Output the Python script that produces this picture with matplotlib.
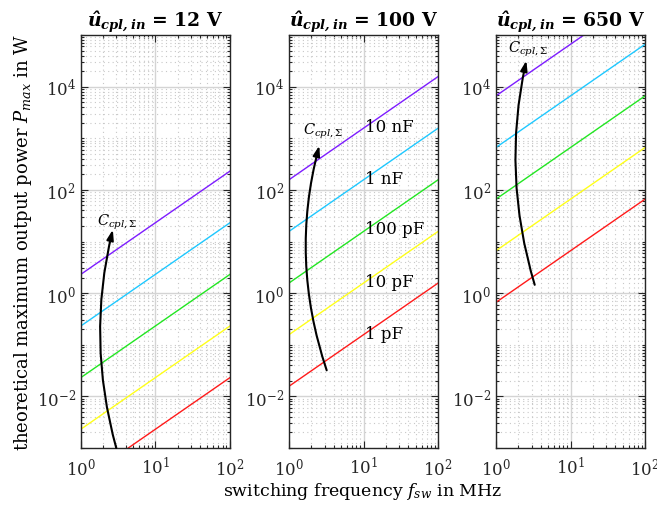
import matplotlib.pyplot as plt
import numpy as np
from matplotlib.ticker import LogLocator, NullFormatter

plt.rcParams['font.family'] = ['DejaVu Serif']
plt.rcParams['mathtext.fontset'] = 'dejavuserif'

# data
voltages = ['12', '100', '650']
f_ends = [1, 100]  # MHz
cap_labels = ['10 nF', '1 nF', '100 pF', '10 pF', '1 pF']
colors = ['#7d1cff', '#1ec8ff', '#22e622', '#ffff1a', '#ff1a1a']
# P_max in W at 1 MHz and at 100 MHz, one row per capacitance (10 nF ... 1 pF)
p_12 = [[2.3, 230], [0.23, 23], [0.023, 2.3], [0.0023, 0.23], [0.00023, 0.023]]
p_100 = [[157, 15700], [15.7, 1570], [1.57, 157], [0.157, 15.7], [0.0157, 1.57]]
p_650 = [[6640, 664000], [664, 66400], [66.4, 6640], [6.64, 664], [0.664, 66.4]]
powers = [p_12, p_100, p_650]

# arrow: start (f, P), end (f, P), label position
arrow_start = [(3.0, 0.0010), (3.2, 0.032), (3.3, 1.45)]
arrow_end = [(2.7, 17), (2.55, 720), (2.55, 32000)]
arrow_rad = [-0.13, -0.15, -0.13]
arrow_label = [(3.05, 25), (2.9, 1400), (2.7, 54000)]
label_pos = [1700, 165, 17.5, 1.7, 0.165]

fig = plt.figure(figsize=(6.57, 5.10), dpi=100)
lefts = [0.1228, 0.4399, 0.755]

for i in range(3):
    ax = fig.add_axes([lefts[i], 0.1196, 0.2270, 0.8098])
    for j in range(5):
        ax.plot(f_ends, powers[i][j], color=colors[j], lw=1.0)
    ax.set_xscale('log')
    ax.set_yscale('log')
    ax.set_xlim(1, 100)
    ax.set_ylim(1e-3, 1e5)
    ax.yaxis.set_major_locator(LogLocator(base=100, numticks=10))
    ax.yaxis.set_minor_locator(LogLocator(base=10, subs=np.arange(1, 10), numticks=100))
    ax.yaxis.set_minor_formatter(NullFormatter())
    ax.xaxis.set_minor_locator(LogLocator(base=10, subs=np.arange(2, 10), numticks=100))
    ax.xaxis.set_minor_formatter(NullFormatter())
    ax.grid(True, which='major', color='#d4d4d4', lw=1.0, ls='-')
    ax.grid(True, which='minor', color='#c8c8c8', lw=0.8, ls=(0, (1, 3)))
    ax.set_axisbelow(True)
    ax.tick_params(which='both', direction='in', top=True, right=True,
                   labelsize=12, colors='#262626', width=0.8)
    ax.tick_params(which='major', length=5)
    ax.tick_params(which='minor', length=2.5)
    ax.tick_params(axis='x', pad=6)
    for s in ax.spines.values():
        s.set_color('#262626')
        s.set_linewidth(1.0)
    ax.set_title(r'$\mathbfit{\hat{u}_{cpl,in}}$' + ' = ' + voltages[i] + ' V',
                 fontsize=13.5, fontweight='bold', pad=6)

    ax.annotate('', xy=arrow_end[i], xytext=arrow_start[i],
                arrowprops=dict(arrowstyle='-|>,head_length=0.6,head_width=0.2',
                                color='black', lw=1.5,
                                connectionstyle='arc3,rad=%s' % arrow_rad[i],
                                shrinkA=0, shrinkB=0))
    ax.text(arrow_label[i][0], arrow_label[i][1], r'$C_{cpl,\Sigma}$',
            fontsize=10.5, ha='center', va='center')

    if i == 1:
        for j in range(5):
            ax.text(10.3, label_pos[j], cap_labels[j], fontsize=12, ha='left', va='center')
    if i == 0:
        ax.set_ylabel(r'theoretical maximum output power $P_{max}$ in W', fontsize=13,
                      labelpad=2)

fig.text(0.5525, 0.036, r'switching frequency $f_{sw}$ in MHz', fontsize=12.5,
         ha='center', va='center')

fig.savefig('out.png', dpi=100)
